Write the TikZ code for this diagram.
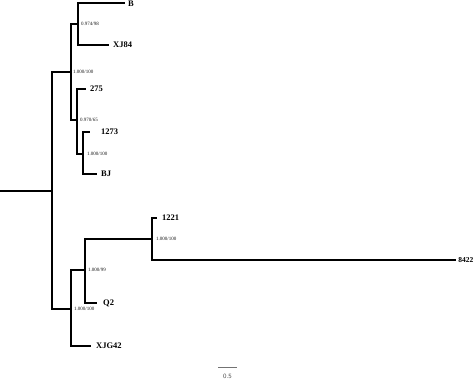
\documentclass[tikz,border=0pt]{standalone}
\usepackage{fontspec}
\setmainfont{Liberation Serif}
\begin{document}
\begin{tikzpicture}[x=1pt,y=-1pt,
  br/.style={line width=1.1pt,black},
  tip/.style={anchor=west,inner sep=0pt,font=\fontsize{8.5}{9}\selectfont\bfseries},
  sup/.style={anchor=west,inner sep=0pt,font=\fontsize{5}{6}\selectfont,text=black!90},
  scl/.style={line width=0.8pt,black!55}]
\useasboundingbox (0,0) rectangle (474,380);
% internal nodes
\coordinate (r0) at (0,191);
\coordinate (n1) at (52,191);
\coordinate (nA) at (71,72);
\coordinate (nB) at (78,24);
\coordinate (nC) at (77,120);
\coordinate (nD) at (83,154);
\coordinate (nE) at (71,309);
\coordinate (nF) at (85,270);
\coordinate (nG) at (152,239);
% tips
\coordinate (tB) at (125,3);
\coordinate (tXJ84) at (109,45);
\coordinate (t275) at (86,89);
\coordinate (t1273) at (90,132);
\coordinate (tBJ) at (97,174);
\coordinate (t1221) at (157,218);
\coordinate (t8422) at (456,260);
\coordinate (tQ2) at (97,303);
\coordinate (tXJG42) at (91,346);
% branches
\draw[br] (r0) -- (n1);
\draw[br] (n1) |- (nA);
\draw[br] (n1) |- (nE);
\draw[br] (nA) |- (nB);
\draw[br] (nA) |- (nC);
\draw[br] (nB) |- (tB);
\draw[br] (nB) |- (tXJ84);
\draw[br] (nC) |- (t275);
\draw[br] (nC) |- (nD);
\draw[br] (nD) |- (t1273);
\draw[br] (nD) |- (tBJ);
\draw[br] (nE) |- (nF);
\draw[br] (nE) |- (tXJG42);
\draw[br] (nF) |- (nG);
\draw[br] (nF) |- (tQ2);
\draw[br] (nG) |- (t1221);
\draw[br] (nG) |- (t8422);
% tip labels
\node[tip] (lB) at (128,4) {B};
\node[tip] (lXJ84) at (113,45) {XJ84};
\node[tip] (l275) at (90,89) {275};
\node[tip] (l1273) at (101,132) {1273};
\node[tip] (lBJ) at (101,174) {BJ};
\node[tip] (l1221) at (162,218) {1221};
\node[tip,anchor=east,font=\fontsize{7.5}{8}\selectfont\bfseries] (l8422) at (473.5,260) {8422};
\node[tip] (lQ2) at (103,303) {Q2};
\node[tip] (lXJG42) at (96,346) {XJG42};
% support labels
\node[sup] (sB) at (81,24) {0.974/98};
\node[sup] (sA) at (73,72) {1.000/100};
\node[sup] (sC) at (80,120) {0.970/65};
\node[sup] (sD) at (87,154) {1.000/100};
\node[sup] (sF) at (88,270) {1.000/99};
\node[sup] (sE) at (74,309) {1.000/100};
\node[sup] (sG) at (156,239) {1.000/100};
% scale bar
\coordinate (s1) at (218,367);
\coordinate (s2) at (237,367);
\draw[scl] (s1) -- (s2);
\node[font=\sffamily\fontsize{6.5}{7}\selectfont,text=black!70,inner sep=0pt] (sl) at (227.5,376) {0.5};
\end{tikzpicture}
\end{document}
